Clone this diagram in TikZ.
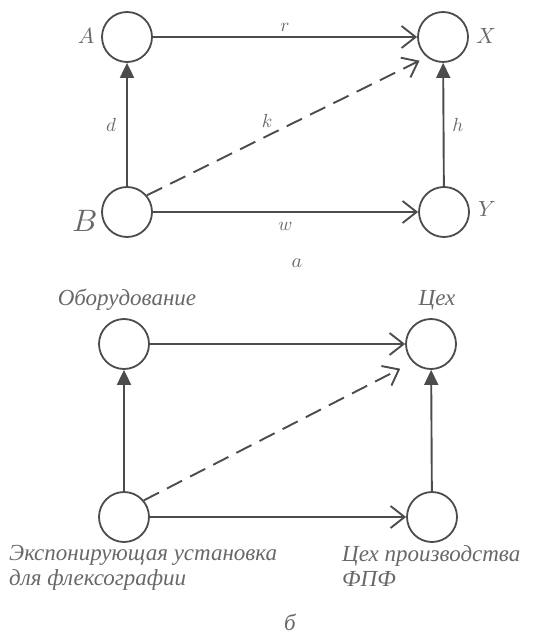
\documentclass[tikz,border=0pt]{standalone}
\usepackage{fontspec}
\setmainfont{Liberation Serif}
\usetikzlibrary{arrows.meta}
\definecolor{ln}{HTML}{4C4C4C}
\definecolor{tx}{HTML}{686868}
\newcommand{\mlab}[2]{\scalebox{#1}{$#2$}}
\begin{document}
\begin{tikzpicture}[x=1pt,y=-1pt,
  vtx/.style={circle,draw=ln,line width=1.8pt,minimum size=50pt,inner sep=0pt},
  lbl/.style={text=tx,inner sep=1pt},
  ru/.style={text=tx,inner sep=1pt,align=left,font=\fontsize{23}{25}\selectfont\itshape},
  openarr/.style={draw=ln,line width=1.9pt,-{Straight Barb[length=14pt,width=22pt,line width=1.9pt]}},
  fillarr/.style={draw=ln,line width=1.9pt,-{Triangle[length=15pt,width=14pt]}},
  dasharr/.style={openarr,dash pattern=on 17pt off 9pt}
]
\useasboundingbox (0,0) rectangle (540,636);
% --- diagram a ---
\node[vtx] (A) at (127,37) {};
\node[vtx] (X) at (443,37) {};
\node[vtx] (B) at (127,212) {};
\node[vtx] (Y) at (444,212) {};
\node[lbl] (lA) at (86,36) {\mlab{2.2}{A}};
\node[lbl] (lX) at (486,36) {\mlab{2.2}{X}};
\node[lbl] (lB) at (85,221) {\mlab{3.1}{B}};
\node[lbl] (lY) at (487,209) {\mlab{2.2}{Y}};
\draw[openarr] (A) -- node[lbl,above=4pt,pos=0.5] (r) {\mlab{1.9}{r}} (X);
\draw[fillarr] (B) -- node[lbl,left=9pt] (d) {\mlab{1.9}{d}} (A);
\draw[fillarr] (Y) -- node[lbl,right=7pt] (h) {\mlab{1.9}{h}} (X);
\draw[openarr] (B) -- node[lbl,below=8pt] (w) {\mlab{1.9}{w}} (Y);
\draw[dasharr,shorten >=8pt] (B.40) -- node[lbl,above=6pt,pos=0.43] (k) {\mlab{1.9}{k}} (X.231);
\node[lbl] (capa) at (297,263) {\mlab{2.0}{a}};
% --- diagram b ---
\node[vtx] (P1) at (124,344) {};
\node[vtx] (P2) at (431,344) {};
\node[vtx] (P3) at (124,517) {};
\node[vtx] (P4) at (432,517) {};
\node[ru,anchor=base] (t1) at (127,305) {Оборудование};
\node[ru,anchor=base] (t2) at (437,305) {Цех};
\node[ru,anchor=north west] (t3) at (8,544) {Экспонирующая установка\\для флексографии};
\node[ru,anchor=north west] (t4) at (341,544) {Цех производства\\ФПФ};
\draw[openarr] (P1) -- (P2);
\draw[fillarr] (P3) -- (P1);
\draw[fillarr] (P4) -- (P2);
\draw[openarr] (P3) -- (P4);
\draw[dasharr,shorten >=14pt] (P3.40) -- (P2.225);
\node[ru] (capb) at (290,622) {б};
\end{tikzpicture}
\end{document}
